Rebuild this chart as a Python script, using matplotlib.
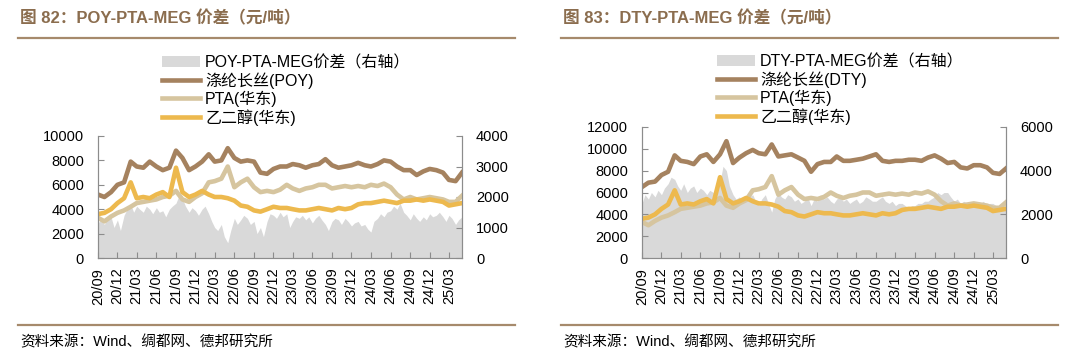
import matplotlib

matplotlib.use("Agg")
import matplotlib.dates as mdates
import matplotlib.pyplot as plt
import pandas as pd
from matplotlib.lines import Line2D
from matplotlib.patches import Patch

plt.rcParams["font.family"] = ["Liberation Sans", "Noto Sans CJK SC", "DejaVu Sans"]

# monthly prices (yuan/ton), 2020-09 .. 2025-05
months = pd.date_range("2020-09-01", "2025-05-01", freq="MS")
# spreads are read twice a month
half_months = pd.date_range("2020-09-01", "2025-05-01", freq="SMS")

poy = [5200, 5000, 5400, 6000, 6200, 7900, 7500, 7400, 7900, 7500,
       7200, 7400, 8800, 8200, 7200, 7500, 7900, 8500, 7900, 8000,
       9000, 8200, 7900, 8000, 7900, 7000, 6900, 7300, 7500, 7500,
       7700, 7600, 7400, 7600, 7700, 8100, 7600, 7400, 7500, 7600,
       7800, 7600, 7500, 7700, 8000, 7900, 7500, 7200, 7200, 6800,
       7100, 7300, 7200, 7000, 6400, 6300, 7000]

dty = [6500, 6900, 7000, 7600, 7900, 9400, 8900, 8800, 8600, 9300,
       9500, 8800, 9500, 10700, 8700, 9200, 9600, 9900, 9600, 9500,
       10400, 9300, 9400, 9500, 9200, 8900, 7900, 8600, 8800, 8800,
       9300, 8900, 8900, 9000, 9100, 9300, 9500, 8900, 8800, 8900,
       8900, 9000, 9000, 8900, 9200, 9400, 9100, 8700, 8800, 8300,
       8200, 8500, 8500, 8300, 7800, 7700, 8200]

pta = [3300, 3000, 3400, 3700, 3900, 4200, 4500, 4600, 4700, 4800,
       5000, 5100, 5500, 4800, 4600, 5000, 5300, 6200, 6300, 6500,
       7500, 5800, 6200, 6500, 5800, 5400, 5500, 5400, 5600, 6000,
       5700, 5500, 5700, 5800, 6000, 6000, 5700, 5800, 5900, 5800,
       5900, 5800, 6000, 5900, 6100, 5800, 5200, 4800, 5000, 4800,
       4900, 5000, 4900, 4800, 4600, 4600, 5100]

meg = [3600, 3700, 4000, 4500, 4900, 6200, 4900, 5000, 4900, 5200,
       5400, 5000, 7400, 5400, 5000, 5200, 5500, 5200, 5000, 5000,
       4900, 4700, 4300, 4200, 3900, 3800, 4000, 4200, 4100, 4100,
       4000, 3900, 3900, 4000, 4100, 4000, 3900, 4100, 4000, 4100,
       4400, 4500, 4500, 4600, 4700, 4600, 4500, 4700, 4700, 4800,
       4700, 4800, 4700, 4600, 4300, 4400, 4500]

poy_spread = [1150, 1250, 1100, 1300, 1350, 1000, 1250, 900, 1400, 1600,
              1750, 1500, 1700, 1600, 1500, 1700, 1600, 1450, 1650, 1500,
              1550, 1350, 1600, 1700, 1800, 2050, 1950, 1700, 1500, 1650,
              1550, 1400, 1600, 1700, 1450, 1200, 1000, 900, 1100, 700,
              500, 900, 1300, 1100, 1250, 1400, 1300, 1100, 1200, 800,
              1000, 700, 1200, 1450, 1400, 1300, 1500, 1350, 1450, 1000,
              1200, 1350, 1300, 1400, 1250, 1350, 1150, 1300, 1400, 1250,
              1100, 900, 1200, 1300, 1250, 1100, 1300, 1200, 1050, 1150,
              1200, 1050, 1100, 950, 850, 1200, 1300, 1450, 1350, 1500,
              1550, 1700, 1600, 1800, 1500, 1400, 1250, 1450, 1300, 1200,
              1350, 1250, 1450, 1350, 1400, 1500, 1350, 1200, 1400, 1300,
              1100, 1250, 1350]

dty_spread = [2500, 2900, 2700, 3000, 2800, 3100, 2900, 3200, 3400, 3700,
              3600, 3300, 3100, 3400, 3000, 3200, 3300, 3000, 3200, 3100,
              2900, 3100, 3000, 3300, 3500, 4200, 4000, 3300, 2900, 2700,
              2800, 2600, 2700, 2800, 2900, 2600, 2400, 2700, 2900, 2500,
              2100, 2700, 3000, 2800, 2700, 2900, 2800, 2600, 2700, 2500,
              2600, 2800, 2400, 2700, 2600, 2900, 2700, 2800, 2600, 2500,
              2700, 2800, 2600, 2700, 2500, 2600, 2700, 2500, 2600, 2800,
              2700, 2600, 2600, 2700, 2800, 2600, 2500, 2600, 2400, 2500,
              2500, 2400, 2300, 2400, 2400, 2500, 2500, 2600, 2600, 2700,
              2800, 3000, 2900, 3000, 3000, 2800, 2600, 2700, 2500, 2600,
              2500, 2400, 2600, 2500, 2500, 2600, 2400, 2500, 2500, 2400,
              2300, 2400, 2500]

BROWN = "#A5825F"
TAN = "#D6C59F"
GOLD = "#EDB94E"
GREY = "#D9D9D9"
HEAD = "#8B6D4E"
RULE = "#A68A6C"
SPINE = "#8C8C8C"


def draw_panel(fig, rect, yarn, yarn_label, spread, spread_label, left_max, left_step, right_max, right_step, legend_xy):
    ax = fig.add_axes(rect)
    ax2 = ax.twinx()
    ax2.fill_between(half_months, spread, color=GREY, lw=0)
    ax.plot(months, yarn, color=BROWN, lw=3.3)
    ax.plot(months, pta, color=TAN, lw=3.3)
    ax.plot(months, meg, color=GOLD, lw=3.3)
    ax.set_zorder(ax2.get_zorder() + 1)
    ax.patch.set_visible(False)

    ax.set_xlim(months[0], months[-1])
    ax.set_ylim(0, left_max)
    ax2.set_ylim(0, right_max)
    ax.set_yticks(range(0, left_max + 1, left_step))
    ax2.set_yticks(range(0, right_max + 1, right_step))
    ax.xaxis.set_major_locator(mdates.MonthLocator(bymonth=[3, 6, 9, 12]))
    ax.xaxis.set_major_formatter(mdates.DateFormatter("%y/%m"))

    for a in (ax, ax2):
        a.spines["top"].set_visible(False)
        for s in ("left", "right", "bottom"):
            a.spines[s].set_color(SPINE)
            a.spines[s].set_linewidth(0.8)
        a.tick_params(axis="y", direction="in", length=4, width=0.8, color=SPINE,
                      labelsize=10.5, pad=10)
    ax.tick_params(axis="x", direction="in", length=4, width=0.8, color=SPINE,
                   labelsize=10.5, pad=7, labelrotation=90)

    handles = [
        Patch(facecolor=GREY, edgecolor="none"),
        Line2D([], [], color=BROWN, lw=3.3),
        Line2D([], [], color=TAN, lw=3.3),
        Line2D([], [], color=GOLD, lw=3.3),
    ]
    labels = [spread_label, yarn_label, "PTA(华东)", "乙二醇(华东)"]
    fig.legend(handles, labels, loc="upper left", bbox_to_anchor=legend_xy, frameon=False,
               fontsize=11.5, handlelength=2.4, handletextpad=0.3, labelspacing=0.12,
               borderpad=0, borderaxespad=0)


W, H = 1080, 361
fig = plt.figure(figsize=(W / 100, H / 100))

draw_panel(fig, [98 / W, 1 - 258 / H, 364 / W, 122 / H], poy, "涤纶长丝(POY)",
           poy_spread, "POY-PTA-MEG价差（右轴）", 10000, 2000, 4000, 1000,
           (162 / W, 1 - 55 / H))
draw_panel(fig, [642 / W, 1 - 258 / H, 364 / W, 131 / H], dty, "涤纶长丝(DTY)",
           dty_spread, "DTY-PTA-MEG价差（右轴）", 12000, 2000, 6000, 2000,
           (717 / W, 1 - 54 / H))

for x0, title in ((20, "图 82：POY-PTA-MEG 价差（元/吨）"), (563, "图 83：DTY-PTA-MEG 价差（元/吨）")):
    fig.text(x0 / W, 1 - 18 / H, title, fontsize=12, fontweight="bold", color=HEAD, va="center")
    fig.add_artist(Line2D([(x0 - 2) / W, (x0 + 495) / W], [1 - 38 / H] * 2,
                          transform=fig.transFigure, color=RULE, lw=1.6))
    fig.add_artist(Line2D([(x0 - 2) / W, (x0 + 495) / W], [1 - 325 / H] * 2,
                          transform=fig.transFigure, color=RULE, lw=1.6))
    fig.text(x0 / W, 1 - 342 / H, "资料来源：Wind、绸都网、德邦研究所", fontsize=10.5, va="center")

fig.savefig("out.png", dpi=100)
plt.close(fig)
